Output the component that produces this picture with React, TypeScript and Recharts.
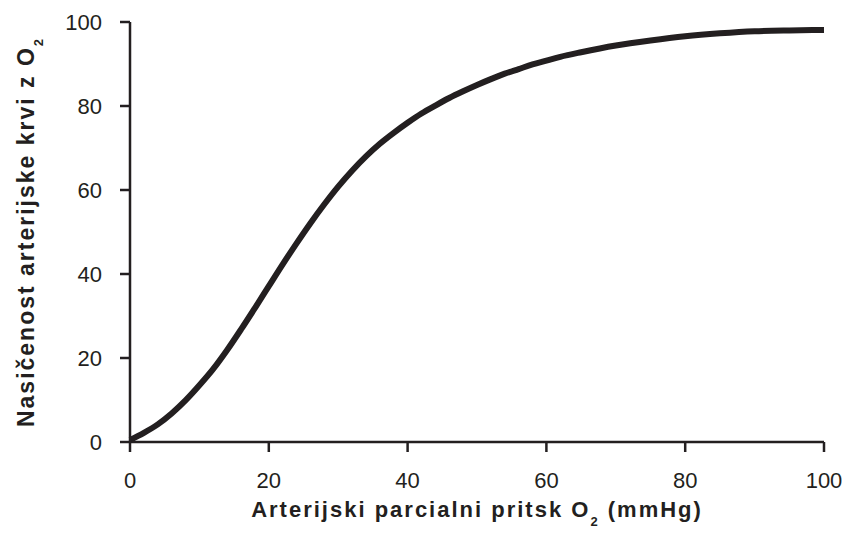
import React from "react";
import { LineChart, Line, XAxis, YAxis, Label } from "recharts";

const pressure = [0, 2, 4, 6, 8, 10, 12, 14, 16, 18, 20, 22, 24, 26, 28, 30, 32, 34, 36, 38, 40, 42, 44, 46, 48, 50, 52, 54, 56, 58, 60, 62, 65, 70, 75, 80, 85, 90, 95, 100];
const saturation = [0.5, 2.2, 4.2, 6.8, 9.9, 13.5, 17.4, 21.9, 26.8, 31.9, 37.1, 42.3, 47.3, 52.1, 56.6, 60.8, 64.6, 68.0, 71.0, 73.6, 76.0, 78.2, 80.1, 81.9, 83.5, 85.0, 86.4, 87.7, 88.8, 89.9, 90.8, 91.7, 92.8, 94.4, 95.6, 96.6, 97.3, 97.8, 98.0, 98.1];
const xTicks = [0, 20, 40, 60, 80, 100];
const yTicks = [0, 20, 40, 60, 80, 100];

const data = pressure.map((p, i) => ({ p, s: saturation[i] }));

const INK = "#231f20";
const FONT = '"Liberation Sans", Arial, sans-serif';

const XTitle = (props: any) => {
  const vb = props.viewBox || { x: 0, y: 0, width: 0, height: 0 };
  const cx = vb.x + vb.width / 2;
  const y = vb.y + 75;
  return (
    <text x={cx} y={y} textAnchor="middle" fill={INK} fontFamily={FONT} fontWeight="bold" fontSize={22} letterSpacing={2}>
      <tspan>Arterijski parcialni pritsk O</tspan>
      <tspan fontSize={13} dy={9}>2</tspan>
      <tspan dy={-9}> (mmHg)</tspan>
    </text>
  );
};

const YTitle = (props: any) => {
  const vb = props.viewBox || { x: 0, y: 0, width: 0, height: 0 };
  const cy = vb.y + vb.height / 2;
  const x = 34;
  return (
    <text transform={`translate(${x}, ${cy}) rotate(-90)`} x={0} y={0} textAnchor="middle" fill={INK} fontFamily={FONT} fontWeight="bold" fontSize={23} letterSpacing={2}>
      <tspan>Nasičenost arterijske krvi z O</tspan>
      <tspan fontSize={13} dy={9}>2</tspan>
    </text>
  );
};

export default function App() {
  return (
    <div style={{ position: "absolute", left: 0, top: 0, width: 856, height: 536, background: "#fff" }}>
      <LineChart width={856} height={536} data={data} margin={{ top: 22, right: 32, bottom: 0, left: 0 }}>
        <XAxis
          dataKey="p"
          type="number"
          domain={[0, 100]}
          ticks={xTicks}
          height={94}
          tickSize={10}
          tickMargin={20}
          axisLine={{ stroke: INK, strokeWidth: 2.5 }}
          tickLine={{ stroke: INK, strokeWidth: 2.5 }}
          tick={{ fill: INK, fontSize: 22, fontFamily: FONT }}
        >
          <Label content={XTitle} />
        </XAxis>
        <YAxis
          type="number"
          domain={[0, 100]}
          ticks={yTicks}
          width={130}
          tickSize={10}
          tickMargin={18}
          axisLine={{ stroke: INK, strokeWidth: 2.5 }}
          tickLine={{ stroke: INK, strokeWidth: 2.5 }}
          tick={{ fill: INK, fontSize: 22, fontFamily: FONT }}
        >
          <Label content={YTitle} />
        </YAxis>
        <Line
          dataKey="s"
          type="monotone"
          stroke={INK}
          strokeWidth={6}
          dot={false}
          activeDot={false}
          isAnimationActive={false}
        />
      </LineChart>
    </div>
  );
}
